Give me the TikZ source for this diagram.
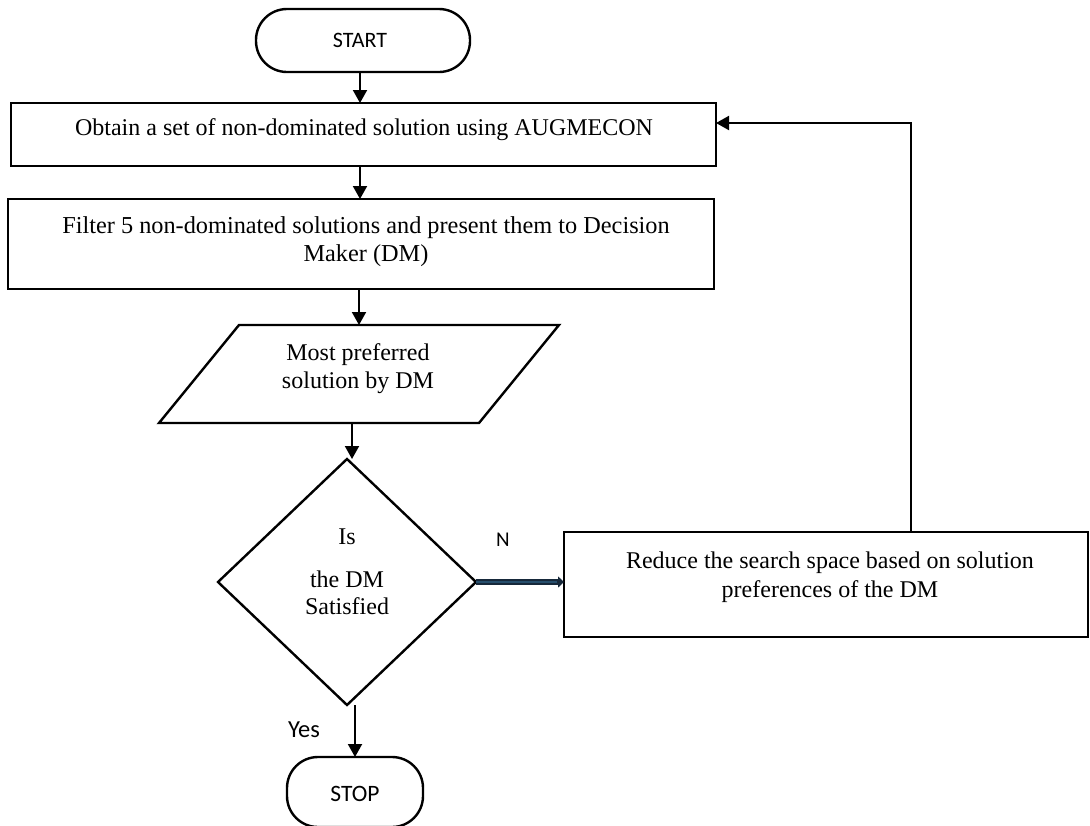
\documentclass[tikz,border=0pt]{standalone}
\usepackage{fontspec}
\setmainfont{Liberation Serif}
\newfontfamily\calib{Carlito}
\usetikzlibrary{arrows.meta,shapes.geometric}
\definecolor{navyout}{RGB}{22,40,58}
\definecolor{navyin}{RGB}{38,78,108}
\begin{document}
\begin{tikzpicture}[x=1pt,y=-1pt,
  shapebox/.style={draw, line width=2.6pt, rectangle, inner sep=0pt, outer sep=0pt},
  term/.style={draw, line width=2.4pt, rectangle, rounded corners=31pt, inner sep=0pt, outer sep=0pt},
  serif/.style={inner sep=0pt, align=center, font=\fontsize{24}{28}\selectfont},
  sans/.style={inner sep=0pt, font=\calib\fontsize{22}{26}\selectfont},
  arr/.style={line width=2pt, -{Triangle[length=13pt,width=14pt]}},
  narr/.style={line width=5.5pt, draw=navyout, -{Triangle[length=6pt,width=11pt]}}
]
\useasboundingbox (0,0) rectangle (1090,825);
\clip (0,0) rectangle (1090,825);

% terminals
\node[term, minimum width=214pt, minimum height=63pt] (start) at (363,40.5) {};
\node[sans] (startt) at (360,40.5) {START};
\node[term, minimum width=136pt, minimum height=70pt] (stop) at (355,792) {};
\node[sans, font=\calib\fontsize{23.5}{27}\selectfont] (stopt) at (355,794) {STOP};

% process boxes
\node[shapebox, minimum width=705pt, minimum height=63pt] (box1) at (363.5,134.5) {};
\node[serif] (box1t) at (364,129.5) {Obtain a set of non-dominated solution using AUGMECON};

\node[shapebox, minimum width=706pt, minimum height=90pt] (box2) at (361,244) {};
\node[serif, font=\fontsize{24.3}{28}\selectfont] (box2t) at (366,241.4) {Filter 5 non-dominated solutions and present them to Decision\\Maker (DM)};

% parallelogram
\node[inner sep=0pt, outer sep=0pt, minimum width=320pt, minimum height=98pt] (par) at (359,374) {};
\draw[line width=2.4pt, line join=miter]
  ([xshift=40pt]par.north west) -- ([xshift=40pt]par.north east)
  -- ([xshift=-40pt]par.south east) -- ([xshift=-40pt]par.south west) -- cycle;
\node[serif] (part) at (358,368.4) {Most preferred\\solution by DM};

% decision
\node[draw, diamond, line width=2.4pt, inner sep=0pt, outer sep=0pt,
      minimum width=258pt, minimum height=246pt] (diam) at (347,582) {};
\node[serif] (diamt) at (347,572.2) {Is\\[15pt]the DM\\[-1pt]Satisfied};

% reduce box
\node[shapebox, minimum width=524pt, minimum height=105pt] (reduce) at (826,584.5) {};
\node[serif] (reducet) at (830,577) {Reduce the search space based on solution\\[1pt]preferences of the DM};

% labels
\node[sans, anchor=base, font=\calib\fontsize{24.5}{28}\selectfont] (yes) at (304,737) {Yes};
\node[sans, anchor=base, font=\calib\fontsize{21}{25}\selectfont] (no) at (503,546) {N};

% connectors
\draw[arr] ([xshift=-3pt]start.south) -- ([xshift=-3pt]start.south |- box1.north);
\draw[arr] ([xshift=-3.5pt]box1.south) -- ([xshift=-3.5pt]box1.south |- box2.north);
\draw[arr] (box2.south -| par.north) -- (par.north);
\draw[arr] ([xshift=-7pt]par.south) -- ([xshift=-7pt]par.south |- diam.north);
\draw[arr] (diam.south -| stop.north) -- (stop.north);
\coordinate (loop) at (911,123);
\draw[arr] (reduce.north -| loop) |- (box1.east |- loop);
\draw[narr] (diam.east) -- (diam.east -| reduce.west);
\draw[line width=2.5pt, draw=navyin, shorten >=7pt] (diam.east) -- (diam.east -| reduce.west);
\end{tikzpicture}
\end{document}
